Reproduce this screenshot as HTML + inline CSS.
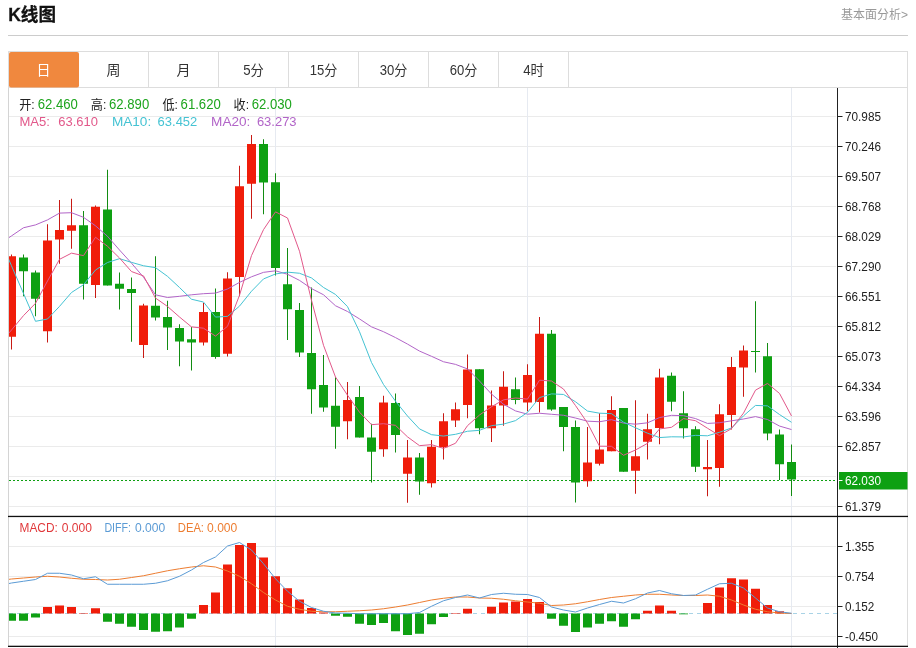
<!DOCTYPE html>
<html lang="zh-CN"><head><meta charset="utf-8"><title>K线图</title>
<style>html,body{margin:0;padding:0;background:#fff}body{width:916px;height:648px;overflow:hidden}svg{display:block}text{font-family:"Liberation Sans","Noto Sans CJK SC",sans-serif}.cjk{font-family:"Liberation Sans","Noto Sans CJK SC",sans-serif}</style></head><body>
<svg width="916" height="648" viewBox="0 0 916 648">
<defs><clipPath id="cp"><rect x="9" y="88" width="828" height="560"/></clipPath></defs>
<rect width="916" height="648" fill="#fff"/>
<text x="8.2" y="21" font-size="18" font-weight="bold" fill="#111" stroke="#111" stroke-width="0.3" textLength="47.8" lengthAdjust="spacingAndGlyphs">K线图</text>
<text x="908" y="18.5" font-size="12" fill="#999" text-anchor="end" textLength="67" lengthAdjust="spacingAndGlyphs">基本面分析&gt;</text>
<rect x="8" y="35" width="900" height="1" fill="#ccc"/>
<rect x="8.5" y="51.5" width="899" height="36" fill="#fff" stroke="#ddd" stroke-width="1"/>
<rect x="9" y="52" width="70" height="35.5" rx="2" ry="2" fill="#f0883e"/>
<text x="36.5" y="75" font-size="14" fill="#fff" textLength="14.0" lengthAdjust="spacingAndGlyphs">日</text>
<text x="106.5" y="75" font-size="14" fill="#333" textLength="14.0" lengthAdjust="spacingAndGlyphs">周</text>
<rect x="148" y="52" width="1" height="35" fill="#ddd"/>
<text x="176.5" y="75" font-size="14" fill="#333" textLength="14.0" lengthAdjust="spacingAndGlyphs">月</text>
<rect x="218" y="52" width="1" height="35" fill="#ddd"/>
<text x="243.2" y="75" font-size="14" fill="#333" textLength="20.6" lengthAdjust="spacingAndGlyphs">5分</text>
<rect x="288" y="52" width="1" height="35" fill="#ddd"/>
<text x="309.7" y="75" font-size="14" fill="#333" textLength="27.6" lengthAdjust="spacingAndGlyphs">15分</text>
<rect x="358" y="52" width="1" height="35" fill="#ddd"/>
<text x="379.7" y="75" font-size="14" fill="#333" textLength="27.6" lengthAdjust="spacingAndGlyphs">30分</text>
<rect x="428" y="52" width="1" height="35" fill="#ddd"/>
<text x="449.7" y="75" font-size="14" fill="#333" textLength="27.6" lengthAdjust="spacingAndGlyphs">60分</text>
<rect x="498" y="52" width="1" height="35" fill="#ddd"/>
<text x="523.2" y="75" font-size="14" fill="#333" textLength="20.6" lengthAdjust="spacingAndGlyphs">4时</text>
<rect x="568" y="52" width="1" height="35" fill="#ddd"/>
<rect x="8" y="88" width="1" height="559" fill="#d4d4d4"/>
<rect x="907" y="88" width="1" height="559" fill="#ddd"/>
<rect x="9" y="116" width="827" height="1" fill="#ebebeb"/>
<rect x="9" y="146" width="827" height="1" fill="#ebebeb"/>
<rect x="9" y="176" width="827" height="1" fill="#ebebeb"/>
<rect x="9" y="206" width="827" height="1" fill="#ebebeb"/>
<rect x="9" y="236" width="827" height="1" fill="#ebebeb"/>
<rect x="9" y="266" width="827" height="1" fill="#ebebeb"/>
<rect x="9" y="296" width="827" height="1" fill="#ebebeb"/>
<rect x="9" y="326" width="827" height="1" fill="#ebebeb"/>
<rect x="9" y="356" width="827" height="1" fill="#ebebeb"/>
<rect x="9" y="386" width="827" height="1" fill="#ebebeb"/>
<rect x="9" y="416" width="827" height="1" fill="#ebebeb"/>
<rect x="9" y="446" width="827" height="1" fill="#ebebeb"/>
<rect x="9" y="476" width="827" height="1" fill="#ebebeb"/>
<rect x="9" y="506" width="827" height="1" fill="#ebebeb"/>
<rect x="9" y="546" width="827" height="1" fill="#ebebeb"/>
<rect x="9" y="576" width="827" height="1" fill="#ebebeb"/>
<rect x="9" y="606" width="827" height="1" fill="#ebebeb"/>
<rect x="9" y="636" width="827" height="1" fill="#ebebeb"/>
<rect x="275" y="88" width="1" height="560" fill="#e6eaf1"/>
<rect x="527" y="88" width="1" height="560" fill="#e6eaf1"/>
<rect x="791" y="88" width="1" height="560" fill="#e6eaf1"/>
<g clip-path="url(#cp)">
<line x1="9" y1="480.5" x2="837" y2="480.5" stroke="#0ea012" stroke-width="1" stroke-dasharray="2,2"/>
<line x1="9" y1="613.5" x2="837" y2="613.5" stroke="#a9d3e6" stroke-width="1" stroke-dasharray="4,4"/>
<rect x="11.0" y="254.50" width="1" height="95.00" fill="#c81a14"/>
<rect x="7.0" y="256.25" width="9.0" height="80.50" fill="#f01d0a"/>
<rect x="23.0" y="254.50" width="1" height="41.75" fill="#128c12"/>
<rect x="19.0" y="257.50" width="9.0" height="13.75" fill="#0ea012"/>
<rect x="35.0" y="270.50" width="1" height="45.75" fill="#128c12"/>
<rect x="31.0" y="272.50" width="9.0" height="26.25" fill="#0ea012"/>
<rect x="47.0" y="224.25" width="1" height="118.25" fill="#c81a14"/>
<rect x="43.0" y="240.50" width="9.0" height="90.75" fill="#f01d0a"/>
<rect x="59.0" y="200.00" width="1" height="63.75" fill="#c81a14"/>
<rect x="55.0" y="230.00" width="9.0" height="9.50" fill="#f01d0a"/>
<rect x="71.0" y="198.75" width="1" height="50.00" fill="#c81a14"/>
<rect x="67.0" y="225.25" width="9.0" height="5.50" fill="#f01d0a"/>
<rect x="83.0" y="211.00" width="1" height="88.50" fill="#128c12"/>
<rect x="79.0" y="225.25" width="9.0" height="58.50" fill="#0ea012"/>
<rect x="95.0" y="205.50" width="1" height="92.50" fill="#c81a14"/>
<rect x="91.0" y="206.75" width="9.0" height="78.25" fill="#f01d0a"/>
<rect x="107.0" y="169.75" width="1" height="115.75" fill="#128c12"/>
<rect x="103.0" y="209.50" width="9.0" height="76.00" fill="#0ea012"/>
<rect x="119.0" y="272.50" width="1" height="37.00" fill="#128c12"/>
<rect x="115.0" y="283.75" width="9.0" height="5.00" fill="#0ea012"/>
<rect x="131.0" y="277.50" width="1" height="64.25" fill="#128c12"/>
<rect x="127.0" y="289.00" width="9.0" height="4.00" fill="#0ea012"/>
<rect x="143.0" y="303.75" width="1" height="54.25" fill="#c81a14"/>
<rect x="139.0" y="305.50" width="9.0" height="39.50" fill="#f01d0a"/>
<rect x="155.0" y="256.25" width="1" height="64.25" fill="#128c12"/>
<rect x="151.0" y="305.75" width="9.0" height="11.75" fill="#0ea012"/>
<rect x="167.0" y="300.75" width="1" height="49.25" fill="#128c12"/>
<rect x="163.0" y="317.00" width="9.0" height="10.50" fill="#0ea012"/>
<rect x="179.0" y="324.25" width="1" height="42.00" fill="#128c12"/>
<rect x="175.0" y="328.00" width="9.0" height="13.50" fill="#0ea012"/>
<rect x="191.0" y="327.00" width="1" height="43.50" fill="#128c12"/>
<rect x="187.0" y="339.25" width="9.0" height="3.25" fill="#0ea012"/>
<rect x="203.0" y="303.00" width="1" height="42.50" fill="#c81a14"/>
<rect x="199.0" y="312.00" width="9.0" height="30.50" fill="#f01d0a"/>
<rect x="215.0" y="288.50" width="1" height="70.25" fill="#128c12"/>
<rect x="211.0" y="312.00" width="9.0" height="45.00" fill="#0ea012"/>
<rect x="227.0" y="272.25" width="1" height="84.25" fill="#c81a14"/>
<rect x="223.0" y="278.50" width="9.0" height="75.25" fill="#f01d0a"/>
<rect x="239.0" y="165.75" width="1" height="130.50" fill="#c81a14"/>
<rect x="235.0" y="186.25" width="9.0" height="90.75" fill="#f01d0a"/>
<rect x="251.0" y="135.00" width="1" height="83.75" fill="#c81a14"/>
<rect x="247.0" y="144.00" width="9.0" height="39.75" fill="#f01d0a"/>
<rect x="263.0" y="139.25" width="1" height="75.00" fill="#128c12"/>
<rect x="259.0" y="144.00" width="9.0" height="38.50" fill="#0ea012"/>
<rect x="275.0" y="173.25" width="1" height="102.25" fill="#128c12"/>
<rect x="271.0" y="182.25" width="9.0" height="85.75" fill="#0ea012"/>
<rect x="287.0" y="248.00" width="1" height="92.00" fill="#128c12"/>
<rect x="283.0" y="284.25" width="9.0" height="25.00" fill="#0ea012"/>
<rect x="299.0" y="303.00" width="1" height="54.00" fill="#128c12"/>
<rect x="295.0" y="310.00" width="9.0" height="42.50" fill="#0ea012"/>
<rect x="311.0" y="287.50" width="1" height="126.25" fill="#128c12"/>
<rect x="307.0" y="353.00" width="9.0" height="36.25" fill="#0ea012"/>
<rect x="323.0" y="355.00" width="1" height="56.75" fill="#128c12"/>
<rect x="319.0" y="385.00" width="9.0" height="22.50" fill="#0ea012"/>
<rect x="335.0" y="377.25" width="1" height="71.50" fill="#128c12"/>
<rect x="331.0" y="405.75" width="9.0" height="21.00" fill="#0ea012"/>
<rect x="347.0" y="382.00" width="1" height="57.25" fill="#c81a14"/>
<rect x="343.0" y="400.00" width="9.0" height="21.25" fill="#f01d0a"/>
<rect x="359.0" y="386.00" width="1" height="51.50" fill="#128c12"/>
<rect x="355.0" y="397.00" width="9.0" height="40.50" fill="#0ea012"/>
<rect x="371.0" y="423.75" width="1" height="58.75" fill="#128c12"/>
<rect x="367.0" y="437.50" width="9.0" height="14.25" fill="#0ea012"/>
<rect x="383.0" y="395.75" width="1" height="61.00" fill="#c81a14"/>
<rect x="379.0" y="402.50" width="9.0" height="46.75" fill="#f01d0a"/>
<rect x="395.0" y="393.50" width="1" height="59.00" fill="#128c12"/>
<rect x="391.0" y="403.00" width="9.0" height="32.00" fill="#0ea012"/>
<rect x="407.0" y="440.00" width="1" height="62.75" fill="#c81a14"/>
<rect x="403.0" y="457.50" width="9.0" height="16.25" fill="#f01d0a"/>
<rect x="419.0" y="453.00" width="1" height="41.75" fill="#128c12"/>
<rect x="415.0" y="457.50" width="9.0" height="24.00" fill="#0ea012"/>
<rect x="431.0" y="440.00" width="1" height="47.50" fill="#c81a14"/>
<rect x="427.0" y="446.75" width="9.0" height="36.50" fill="#f01d0a"/>
<rect x="443.0" y="413.25" width="1" height="46.25" fill="#c81a14"/>
<rect x="439.0" y="421.25" width="9.0" height="26.00" fill="#f01d0a"/>
<rect x="455.0" y="402.50" width="1" height="24.50" fill="#c81a14"/>
<rect x="451.0" y="409.25" width="9.0" height="11.25" fill="#f01d0a"/>
<rect x="467.0" y="354.50" width="1" height="63.75" fill="#c81a14"/>
<rect x="463.0" y="369.50" width="9.0" height="35.50" fill="#f01d0a"/>
<rect x="479.0" y="369.25" width="1" height="65.00" fill="#128c12"/>
<rect x="475.0" y="369.25" width="9.0" height="59.00" fill="#0ea012"/>
<rect x="491.0" y="390.50" width="1" height="51.50" fill="#c81a14"/>
<rect x="487.0" y="405.50" width="9.0" height="22.75" fill="#f01d0a"/>
<rect x="503.0" y="371.25" width="1" height="54.50" fill="#c81a14"/>
<rect x="499.0" y="386.75" width="9.0" height="18.75" fill="#f01d0a"/>
<rect x="515.0" y="377.50" width="1" height="26.75" fill="#128c12"/>
<rect x="511.0" y="389.25" width="9.0" height="10.75" fill="#0ea012"/>
<rect x="527.0" y="364.25" width="1" height="47.00" fill="#c81a14"/>
<rect x="523.0" y="375.00" width="9.0" height="27.50" fill="#f01d0a"/>
<rect x="539.0" y="317.00" width="1" height="95.50" fill="#c81a14"/>
<rect x="535.0" y="333.75" width="9.0" height="68.25" fill="#f01d0a"/>
<rect x="551.0" y="330.00" width="1" height="80.75" fill="#128c12"/>
<rect x="547.0" y="333.75" width="9.0" height="75.75" fill="#0ea012"/>
<rect x="563.0" y="407.00" width="1" height="44.25" fill="#128c12"/>
<rect x="559.0" y="407.00" width="9.0" height="20.00" fill="#0ea012"/>
<rect x="575.0" y="420.50" width="1" height="82.00" fill="#128c12"/>
<rect x="571.0" y="427.00" width="9.0" height="55.50" fill="#0ea012"/>
<rect x="587.0" y="427.00" width="1" height="59.75" fill="#c81a14"/>
<rect x="583.0" y="462.50" width="9.0" height="18.75" fill="#f01d0a"/>
<rect x="599.0" y="413.25" width="1" height="52.25" fill="#c81a14"/>
<rect x="595.0" y="449.50" width="9.0" height="14.25" fill="#f01d0a"/>
<rect x="611.0" y="396.25" width="1" height="55.00" fill="#c81a14"/>
<rect x="607.0" y="410.00" width="9.0" height="41.25" fill="#f01d0a"/>
<rect x="623.0" y="408.00" width="1" height="63.75" fill="#128c12"/>
<rect x="619.0" y="408.00" width="9.0" height="63.75" fill="#0ea012"/>
<rect x="635.0" y="400.25" width="1" height="93.50" fill="#c81a14"/>
<rect x="631.0" y="456.25" width="9.0" height="14.50" fill="#f01d0a"/>
<rect x="647.0" y="413.75" width="1" height="45.75" fill="#c81a14"/>
<rect x="643.0" y="429.25" width="9.0" height="12.50" fill="#f01d0a"/>
<rect x="659.0" y="368.75" width="1" height="75.50" fill="#c81a14"/>
<rect x="655.0" y="377.50" width="9.0" height="50.50" fill="#f01d0a"/>
<rect x="671.0" y="372.50" width="1" height="38.75" fill="#128c12"/>
<rect x="667.0" y="375.75" width="9.0" height="26.00" fill="#0ea012"/>
<rect x="683.0" y="391.25" width="1" height="47.25" fill="#128c12"/>
<rect x="679.0" y="413.25" width="9.0" height="15.00" fill="#0ea012"/>
<rect x="695.0" y="426.25" width="1" height="45.75" fill="#128c12"/>
<rect x="691.0" y="429.25" width="9.0" height="37.50" fill="#0ea012"/>
<rect x="707.0" y="440.00" width="1" height="56.25" fill="#c81a14"/>
<rect x="703.0" y="467.00" width="9.0" height="2.25" fill="#f01d0a"/>
<rect x="719.0" y="404.25" width="1" height="82.50" fill="#c81a14"/>
<rect x="715.0" y="414.25" width="9.0" height="53.75" fill="#f01d0a"/>
<rect x="731.0" y="357.00" width="1" height="72.50" fill="#c81a14"/>
<rect x="727.0" y="367.00" width="9.0" height="48.00" fill="#f01d0a"/>
<rect x="743.0" y="345.50" width="1" height="51.25" fill="#c81a14"/>
<rect x="739.0" y="350.50" width="9.0" height="17.00" fill="#f01d0a"/>
<rect x="755.0" y="301.25" width="1" height="71.25" fill="#128c12"/>
<rect x="751.0" y="351.00" width="9.0" height="1.00" fill="#0ea012"/>
<rect x="767.0" y="343.00" width="1" height="97.25" fill="#128c12"/>
<rect x="763.0" y="356.25" width="9.0" height="77.25" fill="#0ea012"/>
<rect x="779.0" y="429.50" width="1" height="50.50" fill="#128c12"/>
<rect x="775.0" y="434.50" width="9.0" height="29.75" fill="#0ea012"/>
<rect x="791.0" y="444.50" width="1" height="51.50" fill="#128c12"/>
<rect x="787.0" y="462.00" width="9.0" height="17.50" fill="#0ea012"/>
<rect x="7.0" y="613.50" width="9.0" height="7.25" fill="#0ea012"/>
<rect x="19.0" y="613.50" width="9.0" height="7.25" fill="#0ea012"/>
<rect x="31.0" y="613.50" width="9.0" height="4.00" fill="#0ea012"/>
<rect x="43.0" y="607.00" width="9.0" height="6.50" fill="#f01d0a"/>
<rect x="55.0" y="605.50" width="9.0" height="8.00" fill="#f01d0a"/>
<rect x="67.0" y="607.00" width="9.0" height="6.50" fill="#f01d0a"/>
<rect x="79.0" y="613.00" width="9.0" height="0.50" fill="#f01d0a"/>
<rect x="91.0" y="608.25" width="9.0" height="5.25" fill="#f01d0a"/>
<rect x="103.0" y="613.50" width="9.0" height="8.25" fill="#0ea012"/>
<rect x="115.0" y="613.50" width="9.0" height="10.25" fill="#0ea012"/>
<rect x="127.0" y="613.50" width="9.0" height="13.25" fill="#0ea012"/>
<rect x="139.0" y="613.50" width="9.0" height="16.50" fill="#0ea012"/>
<rect x="151.0" y="613.50" width="9.0" height="18.25" fill="#0ea012"/>
<rect x="163.0" y="613.50" width="9.0" height="17.75" fill="#0ea012"/>
<rect x="175.0" y="613.50" width="9.0" height="14.00" fill="#0ea012"/>
<rect x="187.0" y="613.50" width="9.0" height="5.25" fill="#0ea012"/>
<rect x="199.0" y="605.00" width="9.0" height="8.50" fill="#f01d0a"/>
<rect x="211.0" y="592.50" width="9.0" height="21.00" fill="#f01d0a"/>
<rect x="223.0" y="564.50" width="9.0" height="49.00" fill="#f01d0a"/>
<rect x="235.0" y="545.00" width="9.0" height="68.50" fill="#f01d0a"/>
<rect x="247.0" y="543.00" width="9.0" height="70.50" fill="#f01d0a"/>
<rect x="259.0" y="557.50" width="9.0" height="56.00" fill="#f01d0a"/>
<rect x="271.0" y="576.25" width="9.0" height="37.25" fill="#f01d0a"/>
<rect x="283.0" y="588.25" width="9.0" height="25.25" fill="#f01d0a"/>
<rect x="295.0" y="599.50" width="9.0" height="14.00" fill="#f01d0a"/>
<rect x="307.0" y="608.00" width="9.0" height="5.50" fill="#f01d0a"/>
<rect x="319.0" y="612.50" width="9.0" height="1.00" fill="#f01d0a"/>
<rect x="331.0" y="613.50" width="9.0" height="2.25" fill="#0ea012"/>
<rect x="343.0" y="613.50" width="9.0" height="3.25" fill="#0ea012"/>
<rect x="355.0" y="613.50" width="9.0" height="10.25" fill="#0ea012"/>
<rect x="367.0" y="613.50" width="9.0" height="11.50" fill="#0ea012"/>
<rect x="379.0" y="613.50" width="9.0" height="9.50" fill="#0ea012"/>
<rect x="391.0" y="613.50" width="9.0" height="17.75" fill="#0ea012"/>
<rect x="403.0" y="613.50" width="9.0" height="21.50" fill="#0ea012"/>
<rect x="415.0" y="613.50" width="9.0" height="20.25" fill="#0ea012"/>
<rect x="427.0" y="613.50" width="9.0" height="10.75" fill="#0ea012"/>
<rect x="439.0" y="613.50" width="9.0" height="3.50" fill="#0ea012"/>
<rect x="451.0" y="613.00" width="9.0" height="0.50" fill="#f01d0a"/>
<rect x="463.0" y="608.75" width="9.0" height="4.75" fill="#f01d0a"/>
<rect x="487.0" y="606.75" width="9.0" height="6.75" fill="#f01d0a"/>
<rect x="499.0" y="602.50" width="9.0" height="11.00" fill="#f01d0a"/>
<rect x="511.0" y="601.50" width="9.0" height="12.00" fill="#f01d0a"/>
<rect x="523.0" y="599.00" width="9.0" height="14.50" fill="#f01d0a"/>
<rect x="535.0" y="602.00" width="9.0" height="11.50" fill="#f01d0a"/>
<rect x="547.0" y="613.50" width="9.0" height="5.25" fill="#0ea012"/>
<rect x="559.0" y="613.50" width="9.0" height="12.25" fill="#0ea012"/>
<rect x="571.0" y="613.50" width="9.0" height="18.50" fill="#0ea012"/>
<rect x="583.0" y="613.50" width="9.0" height="14.00" fill="#0ea012"/>
<rect x="595.0" y="613.50" width="9.0" height="10.25" fill="#0ea012"/>
<rect x="607.0" y="613.50" width="9.0" height="7.75" fill="#0ea012"/>
<rect x="619.0" y="613.50" width="9.0" height="13.25" fill="#0ea012"/>
<rect x="631.0" y="613.50" width="9.0" height="5.75" fill="#0ea012"/>
<rect x="643.0" y="610.75" width="9.0" height="2.75" fill="#f01d0a"/>
<rect x="655.0" y="605.50" width="9.0" height="8.00" fill="#f01d0a"/>
<rect x="667.0" y="610.75" width="9.0" height="2.75" fill="#f01d0a"/>
<rect x="679.0" y="613.50" width="9.0" height="0.80" fill="#0ea012"/>
<rect x="703.0" y="603.00" width="9.0" height="10.50" fill="#f01d0a"/>
<rect x="715.0" y="587.50" width="9.0" height="26.00" fill="#f01d0a"/>
<rect x="727.0" y="578.25" width="9.0" height="35.25" fill="#f01d0a"/>
<rect x="739.0" y="579.50" width="9.0" height="34.00" fill="#f01d0a"/>
<rect x="751.0" y="588.75" width="9.0" height="24.75" fill="#f01d0a"/>
<rect x="763.0" y="605.00" width="9.0" height="8.50" fill="#f01d0a"/>
<rect x="775.0" y="611.25" width="9.0" height="2.25" fill="#f01d0a"/>
<polyline points="-0.5,244.00 11.5,235.90 23.5,227.75 35.5,224.90 47.5,219.90 59.5,213.10 71.5,212.70 83.5,217.30 95.5,225.80 107.5,236.30 119.5,250.00 131.5,263.20 143.5,277.20 155.5,294.80 167.5,297.50 179.5,296.30 191.5,294.80 203.5,293.70 215.5,293.10 227.5,289.00 239.5,282.40 251.5,276.79 263.5,272.35 275.5,270.81 287.5,274.25 299.5,280.38 311.5,288.57 323.5,294.76 335.5,305.76 347.5,311.49 359.5,318.93 371.5,326.86 383.5,331.71 395.5,337.59 407.5,344.09 419.5,351.09 431.5,356.30 443.5,361.76 455.5,364.38 467.5,368.93 479.5,381.02 491.5,394.10 503.5,404.31 515.5,410.91 527.5,414.20 539.5,413.26 551.5,414.27 563.5,415.25 575.5,418.04 587.5,421.16 599.5,421.76 611.5,419.68 623.5,423.14 635.5,424.20 647.5,422.79 659.5,417.59 671.5,415.34 683.5,415.69 695.5,418.56 707.5,423.44 719.5,422.74 731.5,420.81 743.5,419.00 755.5,416.60 767.5,419.52 779.5,426.05 791.5,429.55" fill="none" stroke="#b265c8" stroke-width="1" stroke-linejoin="round"/>
<polyline points="-0.5,238.00 11.5,265.80 23.5,293.50 35.5,321.30 47.5,319.00 59.5,306.40 71.5,292.50 83.5,284.75 95.5,270.00 107.5,262.50 119.5,258.68 131.5,262.35 143.5,265.77 155.5,267.65 167.5,276.35 179.5,287.50 191.5,299.23 203.5,302.05 215.5,317.07 227.5,316.38 239.5,306.12 251.5,291.23 263.5,278.93 275.5,273.98 287.5,272.15 299.5,273.25 311.5,277.93 323.5,287.48 335.5,294.45 347.5,306.60 359.5,331.73 371.5,362.50 383.5,384.50 395.5,401.20 407.5,416.02 419.5,428.93 431.5,434.68 443.5,436.05 455.5,434.30 467.5,431.25 479.5,430.32 491.5,425.70 503.5,424.12 515.5,420.62 527.5,412.38 539.5,397.60 551.5,393.88 563.5,394.45 575.5,401.77 587.5,411.07 599.5,413.20 611.5,413.65 623.5,422.15 635.5,427.77 647.5,433.20 659.5,437.57 671.5,436.80 683.5,436.93 695.5,435.35 707.5,435.80 719.5,432.27 731.5,427.98 743.5,415.85 755.5,405.43 767.5,405.85 779.5,414.52 791.5,422.30" fill="none" stroke="#45c3d3" stroke-width="1" stroke-linejoin="round"/>
<polyline points="-0.5,344.00 11.5,330.00 23.5,315.60 35.5,303.30 47.5,281.00 59.5,259.35 71.5,253.15 83.5,255.65 95.5,237.25 107.5,246.25 119.5,258.00 131.5,271.55 143.5,275.90 155.5,298.05 167.5,306.45 179.5,317.00 191.5,326.90 203.5,328.20 215.5,336.10 227.5,326.30 239.5,295.25 251.5,255.55 263.5,229.65 275.5,211.85 287.5,218.00 299.5,251.25 311.5,300.30 323.5,345.30 335.5,377.05 347.5,395.20 359.5,412.20 371.5,424.70 383.5,423.70 395.5,425.35 407.5,436.85 419.5,445.65 431.5,444.65 443.5,448.40 455.5,443.25 467.5,425.65 479.5,415.00 491.5,406.75 503.5,399.85 515.5,398.00 527.5,399.10 539.5,380.20 551.5,381.00 563.5,389.05 575.5,405.55 587.5,423.05 599.5,446.20 611.5,446.30 623.5,455.25 635.5,450.00 647.5,443.35 659.5,428.95 671.5,427.30 683.5,418.60 695.5,420.70 707.5,428.25 719.5,435.60 731.5,428.65 743.5,413.10 755.5,390.15 767.5,383.45 779.5,393.45 791.5,415.95" fill="none" stroke="#e2588a" stroke-width="1" stroke-linejoin="round"/>
<polyline points="-0.5,580.50 11.5,579.00 23.5,578.00 35.5,577.00 47.5,576.25 59.5,577.00 71.5,578.25 83.5,579.25 95.5,579.50 107.5,580.00 119.5,579.25 131.5,577.50 143.5,575.75 155.5,573.25 167.5,570.75 179.5,568.75 191.5,567.00 203.5,565.75 215.5,567.00 227.5,571.00 239.5,576.25 251.5,583.75 263.5,592.50 275.5,600.00 287.5,606.25 299.5,609.25 311.5,611.25 323.5,611.75 335.5,611.75 347.5,611.25 359.5,610.75 371.5,610.00 383.5,608.75 395.5,607.00 407.5,605.00 419.5,602.50 431.5,600.00 443.5,598.25 455.5,597.00 467.5,597.00 479.5,598.00 491.5,598.25 503.5,599.25 515.5,600.75 527.5,602.00 539.5,603.25 551.5,605.50 563.5,605.00 575.5,603.75 587.5,601.75 599.5,599.50 611.5,597.50 623.5,596.25 635.5,595.00 647.5,594.25 659.5,594.25 671.5,595.00 683.5,595.50 695.5,595.50 707.5,595.00 719.5,596.25 731.5,600.00 743.5,605.00 755.5,609.25 767.5,611.75 779.5,613.00 791.5,613.50" fill="none" stroke="#ed7d31" stroke-width="1" stroke-linejoin="round"/>
<polyline points="-0.5,585.50 11.5,583.00 23.5,581.25 35.5,579.50 47.5,573.25 59.5,573.25 71.5,575.00 83.5,578.75 95.5,576.75 107.5,584.25 119.5,584.25 131.5,584.25 143.5,584.25 155.5,583.25 167.5,580.75 179.5,576.25 191.5,570.00 203.5,562.50 215.5,557.00 227.5,546.00 239.5,542.50 251.5,550.00 263.5,563.75 275.5,578.75 287.5,591.25 299.5,601.25 311.5,607.50 323.5,611.25 335.5,613.00 347.5,613.25 359.5,613.75 371.5,613.75 383.5,613.75 395.5,613.75 407.5,613.75 419.5,612.50 431.5,606.25 443.5,600.75 455.5,597.50 467.5,595.00 479.5,598.00 491.5,594.50 503.5,593.25 515.5,594.25 527.5,594.50 539.5,597.50 551.5,607.00 563.5,610.00 575.5,612.00 587.5,608.00 599.5,604.50 611.5,601.25 623.5,603.00 635.5,598.75 647.5,593.00 659.5,590.50 671.5,593.75 683.5,595.50 695.5,595.00 707.5,589.25 719.5,583.75 731.5,583.25 743.5,588.00 755.5,598.00 767.5,608.00 779.5,611.75 791.5,613.25" fill="none" stroke="#5b9bd5" stroke-width="1" stroke-linejoin="round"/>
</g>
<rect x="837" y="88" width="1" height="560" fill="#222"/>
<rect x="8" y="515.8" width="900" height="1.3" fill="#111"/>
<rect x="8" y="645.7" width="900" height="1.3" fill="#111"/>
<rect x="838" y="116" width="4.5" height="1" fill="#222"/>
<text x="845" y="120.8" font-size="12" fill="#222" textLength="36" lengthAdjust="spacingAndGlyphs">70.985</text>
<rect x="838" y="146" width="4.5" height="1" fill="#222"/>
<text x="845" y="150.8" font-size="12" fill="#222" textLength="36" lengthAdjust="spacingAndGlyphs">70.246</text>
<rect x="838" y="176" width="4.5" height="1" fill="#222"/>
<text x="845" y="180.8" font-size="12" fill="#222" textLength="36" lengthAdjust="spacingAndGlyphs">69.507</text>
<rect x="838" y="206" width="4.5" height="1" fill="#222"/>
<text x="845" y="210.8" font-size="12" fill="#222" textLength="36" lengthAdjust="spacingAndGlyphs">68.768</text>
<rect x="838" y="236" width="4.5" height="1" fill="#222"/>
<text x="845" y="240.8" font-size="12" fill="#222" textLength="36" lengthAdjust="spacingAndGlyphs">68.029</text>
<rect x="838" y="266" width="4.5" height="1" fill="#222"/>
<text x="845" y="270.8" font-size="12" fill="#222" textLength="36" lengthAdjust="spacingAndGlyphs">67.290</text>
<rect x="838" y="296" width="4.5" height="1" fill="#222"/>
<text x="845" y="300.8" font-size="12" fill="#222" textLength="36" lengthAdjust="spacingAndGlyphs">66.551</text>
<rect x="838" y="326" width="4.5" height="1" fill="#222"/>
<text x="845" y="330.8" font-size="12" fill="#222" textLength="36" lengthAdjust="spacingAndGlyphs">65.812</text>
<rect x="838" y="356" width="4.5" height="1" fill="#222"/>
<text x="845" y="360.8" font-size="12" fill="#222" textLength="36" lengthAdjust="spacingAndGlyphs">65.073</text>
<rect x="838" y="386" width="4.5" height="1" fill="#222"/>
<text x="845" y="390.8" font-size="12" fill="#222" textLength="36" lengthAdjust="spacingAndGlyphs">64.334</text>
<rect x="838" y="416" width="4.5" height="1" fill="#222"/>
<text x="845" y="420.8" font-size="12" fill="#222" textLength="36" lengthAdjust="spacingAndGlyphs">63.596</text>
<rect x="838" y="446" width="4.5" height="1" fill="#222"/>
<text x="845" y="450.8" font-size="12" fill="#222" textLength="36" lengthAdjust="spacingAndGlyphs">62.857</text>
<rect x="838" y="506" width="4.5" height="1" fill="#222"/>
<text x="845" y="510.8" font-size="12" fill="#222" textLength="36" lengthAdjust="spacingAndGlyphs">61.379</text>
<rect x="838" y="546" width="4.5" height="1" fill="#222"/>
<text x="845" y="550.6" font-size="12" fill="#222" textLength="29.3" lengthAdjust="spacingAndGlyphs">1.355</text>
<rect x="838" y="576" width="4.5" height="1" fill="#222"/>
<text x="845" y="580.6" font-size="12" fill="#222" textLength="29.3" lengthAdjust="spacingAndGlyphs">0.754</text>
<rect x="838" y="606" width="4.5" height="1" fill="#222"/>
<text x="845" y="610.6" font-size="12" fill="#222" textLength="29.3" lengthAdjust="spacingAndGlyphs">0.152</text>
<rect x="838" y="636" width="4.5" height="1" fill="#222"/>
<text x="845" y="640.6" font-size="12" fill="#222" textLength="33" lengthAdjust="spacingAndGlyphs">-0.450</text>
<rect x="839" y="472" width="68.5" height="17.5" fill="#0ea012"/>
<rect x="838" y="480" width="4.5" height="1" fill="#fff"/>
<text x="845" y="485.3" font-size="12" fill="#fff" textLength="36" lengthAdjust="spacingAndGlyphs">62.030</text>
<text x="19.2" y="109.0" font-size="13" fill="#222" textLength="15.5" lengthAdjust="spacingAndGlyphs">开:</text>
<text x="37.7" y="109.0" font-size="14" fill="#1ea51e" textLength="40.2" lengthAdjust="spacingAndGlyphs">62.460</text>
<text x="90.8" y="109.0" font-size="13" fill="#222" textLength="15.5" lengthAdjust="spacingAndGlyphs">高:</text>
<text x="109.0" y="109.0" font-size="14" fill="#1ea51e" textLength="40.2" lengthAdjust="spacingAndGlyphs">62.890</text>
<text x="162.4" y="109.0" font-size="13" fill="#222" textLength="15.5" lengthAdjust="spacingAndGlyphs">低:</text>
<text x="180.6" y="109.0" font-size="14" fill="#1ea51e" textLength="40.2" lengthAdjust="spacingAndGlyphs">61.620</text>
<text x="233.6" y="109.0" font-size="13" fill="#222" textLength="15.5" lengthAdjust="spacingAndGlyphs">收:</text>
<text x="251.7" y="109.0" font-size="14" fill="#1ea51e" textLength="40.2" lengthAdjust="spacingAndGlyphs">62.030</text>
<text x="19.4" y="126.2" font-size="13" fill="#e2588a" textLength="30.5" lengthAdjust="spacingAndGlyphs">MA5:</text>
<text x="58.3" y="126.2" font-size="13" fill="#e2588a" textLength="39.7" lengthAdjust="spacingAndGlyphs">63.610</text>
<text x="111.9" y="126.2" font-size="13" fill="#45c3d3" textLength="39.3" lengthAdjust="spacingAndGlyphs">MA10:</text>
<text x="157.6" y="126.2" font-size="13" fill="#45c3d3" textLength="39.7" lengthAdjust="spacingAndGlyphs">63.452</text>
<text x="211.1" y="126.2" font-size="13" fill="#b265c8" textLength="39.3" lengthAdjust="spacingAndGlyphs">MA20:</text>
<text x="256.9" y="126.2" font-size="13" fill="#b265c8" textLength="39.7" lengthAdjust="spacingAndGlyphs">63.273</text>
<text x="19.6" y="531.8" font-size="12" fill="#e0383a" textLength="38.2" lengthAdjust="spacingAndGlyphs">MACD:</text>
<text x="61.7" y="531.8" font-size="12" fill="#e0383a" textLength="30.2" lengthAdjust="spacingAndGlyphs">0.000</text>
<text x="104.4" y="531.8" font-size="12" fill="#5b9bd5" textLength="26.7" lengthAdjust="spacingAndGlyphs">DIFF:</text>
<text x="135.0" y="531.8" font-size="12" fill="#5b9bd5" textLength="30.2" lengthAdjust="spacingAndGlyphs">0.000</text>
<text x="177.8" y="531.8" font-size="12" fill="#ed7d31" textLength="26.2" lengthAdjust="spacingAndGlyphs">DEA:</text>
<text x="207.1" y="531.8" font-size="12" fill="#ed7d31" textLength="30.2" lengthAdjust="spacingAndGlyphs">0.000</text>
</svg></body></html>
